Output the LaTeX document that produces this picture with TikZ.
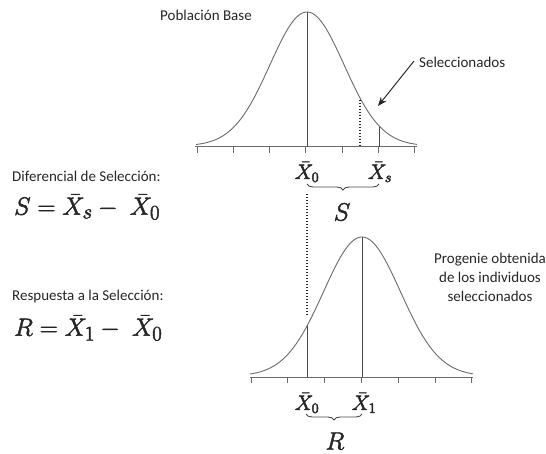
\documentclass[tikz,border=0pt]{standalone}
\usepackage{fontspec}
\setmainfont{Carlito}
\usetikzlibrary{decorations.pathreplacing,arrows.meta}
\definecolor{txt}{HTML}{262626}
\definecolor{crv}{HTML}{6A6A6A}
\newcommand\heavytext[1]{\special{pdf:literal direct 2 Tr 0.5 w}#1\special{pdf:literal direct 0 Tr}}
\begin{document}
\begin{tikzpicture}[x=1pt,y=-1pt,
  lbl/.style={font=\fontsize{15}{18}\selectfont,text=txt,inner sep=0pt},
  eqn/.style={font=\fontsize{30}{32}\selectfont,text=txt,inner sep=0pt},
  xlab/.style={font=\fontsize{22}{24}\selectfont,text=txt,inner sep=0pt},
  blab/.style={font=\fontsize{31}{33}\selectfont,text=txt,inner sep=0pt},
  curve/.style={draw=crv,line width=0.9pt},
  axis/.style={draw=crv,line width=1pt},
  mline/.style={draw=txt!85,line width=0.9pt},
  dots/.style={draw=txt,line width=1.3pt,dash pattern=on 1.3pt off 1.7pt},
  brc/.style={draw=txt!85,line width=0.9pt,decorate,decoration={brace,mirror,amplitude=6pt}}]
\useasboundingbox (0,0) rectangle (546,454);
% ---------- top distribution ----------
\coordinate (tA) at (195,147);
\coordinate (tB) at (417,147);
\draw[axis] (tA) -- (tB);
\foreach \i in {0,...,6} {\draw[axis] ({197+36.3*\i},147) -- ({197+36.3*\i},153);}
\draw[curve] plot[domain=-111:110,samples=120,smooth] ({307+\x},{146-134*exp(-(\x*\x)/2740)});
\coordinate (tpk) at (307,12);
\coordinate (t0) at (307,147);
\draw[mline] (tpk) -- (t0);
\coordinate (tsTop) at (379,127);
\coordinate (ts) at (379,147);
\draw[mline] (tsTop) -- (ts);
\coordinate (tdTop) at (360,100);
\coordinate (td) at (360,147);
\draw[dots] (tdTop) -- (td);
\node[xlab] (x0t) at (307,172) {\heavytext{$\bar{X}_0$}};
\node[xlab] (xst) at (380,172) {\heavytext{$\bar{X}_s$}};
\coordinate (bs1) at (307,184);
\coordinate (bs2) at (379,184);
\draw[brc] (bs1) -- (bs2);
\node[blab] (S) at (342,212) {\heavytext{$S$}};
\node[lbl] (pob) at (206,15) {Población Base};
\node[lbl,anchor=west] (sel) at (419,62) {Seleccionados};
\coordinate (arS) at (414,61);
\coordinate (arE) at (378,106);
\draw[draw=txt,line width=1pt,-{Stealth[length=9pt,width=7pt]}] (arS) -- (arE);
% ---------- dotted link ----------
\coordinate (dl1) at (307,194);
\coordinate (dl2) at (307,315);
\draw[dots] (dl1) -- (dl2);
% ---------- bottom distribution ----------
\coordinate (bA) at (250,377);
\coordinate (bB) at (473,377);
\draw[axis] (bA) -- (bB);
\foreach \i in {0,...,6} {\draw[axis] ({251+36.8*\i},377) -- ({251+36.8*\i},383);}
\draw[curve] plot[domain=-112:111,samples=120,smooth] ({362+\x},{376-139*exp(-(\x*\x)/2960)});
\coordinate (bpk) at (362,237);
\coordinate (b1) at (362,377);
\draw[mline] (bpk) -- (b1);
\coordinate (b0Top) at (307,326);
\coordinate (b0) at (307,377);
\draw[mline] (b0Top) -- (b0);
\node[xlab] (x0b) at (307,403) {\heavytext{$\bar{X}_0$}};
\node[xlab] (x1b) at (364,403) {\heavytext{$\bar{X}_1$}};
\coordinate (br1) at (306,414);
\coordinate (br2) at (362,414);
\draw[brc] (br1) -- (br2);
\node[blab] (R) at (335,441) {\heavytext{$R$}};
\node[lbl,align=center] (prog) at (490,277) {Progenie obtenida\\[1pt]de los individuos\\[1pt]seleccionados};
% ---------- left formulas ----------
\node[lbl,anchor=west] (dif) at (12,176) {Diferencial de Selección:};
\node[eqn,anchor=west] (eqS) at (14,207) {\heavytext{$S=\bar{X}_s-\ \bar{X}_0$}};
\node[lbl,anchor=west] (resp) at (12,297) {Respuesta a la Selección:};
\node[eqn,anchor=west] (eqR) at (14,328) {\heavytext{$R=\bar{X}_1-\ \bar{X}_0$}};
\end{tikzpicture}
\end{document}
